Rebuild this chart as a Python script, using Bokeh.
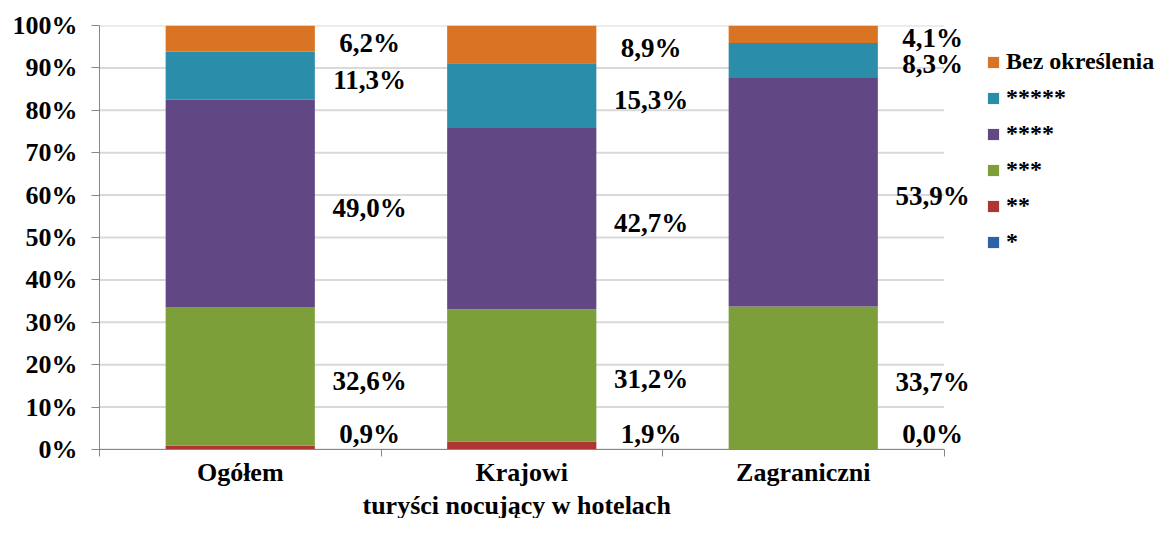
from bokeh.plotting import figure
from bokeh.models import (ColumnDataSource, FixedTicker, Legend, LegendItem, Title,
                          PrintfTickFormatter, Range1d)
from bokeh.core.properties import value
from bokeh.embed import file_html
from bokeh.resources import INLINE

# ---- data ----
categories = ["Ogółem", "Krajowi", "Zagraniczni"]
series_names = ["*", "**", "***", "****", "*****", "Bez określenia"]
s_1 = [0.0, 0.0, 0.0]          # *
s_2 = [0.9, 1.9, 0.0]          # **
s_3 = [32.6, 31.2, 33.7]       # ***
s_4 = [49.0, 42.7, 53.9]       # ****
s_5 = [11.3, 15.3, 8.3]        # *****
s_6 = [6.2, 8.9, 4.1]          # Bez określenia
y_ticks = [0, 10, 20, 30, 40, 50, 60, 70, 80, 90, 100]
axis_title = "turyści nocujący w hotelach"

colors = ["#2C62A6", "#AE3534", "#7D9F39", "#624785", "#2A8DAA", "#D87424"]
FONT = "Liberation Serif"

W, H = 1156, 518
LEFT = 99
CAT_PX = 281.5           # pixel width of one category slot
n = len(categories)
x_end = (W - LEFT) / CAT_PX   # extra room on the right for labels and legend

series_values = [s_1, s_2, s_3, s_4, s_5, s_6]
keys = ["s1", "s2", "s3", "s4", "s5", "s6"]
xs = [i + 0.5 for i in range(n)]
data = {"x": xs}
for k, v in zip(keys, series_values):
    data[k] = v
source = ColumnDataSource(data)

p = figure(width=W, height=H, x_range=Range1d(0, x_end), y_range=Range1d(0, 100),
           output_backend="svg", toolbar_location=None,
           min_border_left=LEFT, min_border_right=0, min_border_top=25, min_border_bottom=0)
p.outline_line_color = None
p.background_fill_color = "white"

# horizontal gridlines limited to the category area
p.segment(x0=[0] * len(y_ticks), x1=[n] * len(y_ticks), y0=y_ticks, y1=y_ticks,
          line_color="#D9D9D9", line_width=2, level="underlay")

rs = p.vbar_stack(keys, x="x", width=0.53, source=source, color=colors, line_color=None)

# data labels (right of bars)
lx, ly, lt = [], [], []
for i in range(n):
    bottom = 0.0
    for j, vals in enumerate(series_values):
        v = vals[i]
        if j >= 1:
            mid = bottom + v / 2.0
            lx.append(xs[i] + 0.46)
            ly.append(max(mid, 4.5))
            lt.append(f"{v:.1f}%".replace(".", ","))
        bottom += v
lsrc = ColumnDataSource(dict(x=lx, y=ly, t=lt))
p.text(x="x", y="y", text="t", source=lsrc, text_align="center", text_baseline="middle",
       y_offset=4, text_font=value(FONT), text_font_style="bold", text_font_size="27px",
       text_color="black")

# axes
p.xaxis.bounds = (0, n)
p.xaxis.ticker = FixedTicker(ticks=xs, minor_ticks=list(range(n + 1)))
p.xaxis.major_label_overrides = {x: c for x, c in zip(xs, categories)}
p.xaxis.major_tick_line_color = None
p.xaxis.major_tick_out = 0
p.xaxis.major_tick_in = 0
p.xaxis.minor_tick_out = 7
p.xaxis.minor_tick_in = 0
p.xaxis.minor_tick_line_color = "#868686"
p.xaxis.axis_line_color = "#868686"
p.xaxis.major_label_standoff = 1
p.xaxis.major_label_text_font = FONT
p.xaxis.major_label_text_font_style = "bold"
p.xaxis.major_label_text_font_size = "26px"
p.xaxis.major_label_text_color = "black"

p.yaxis.ticker = FixedTicker(ticks=y_ticks, minor_ticks=[])
p.yaxis.formatter = PrintfTickFormatter(format="%d%%")
p.yaxis.major_tick_out = 8
p.yaxis.major_tick_in = 0
p.yaxis.major_tick_line_color = "#868686"
p.yaxis.axis_line_color = "#868686"
p.yaxis.major_label_standoff = 14
p.yaxis.major_label_text_font = FONT
p.yaxis.major_label_text_font_style = "bold"
p.yaxis.major_label_text_font_size = "26px"
p.yaxis.major_label_text_color = "black"

p.xgrid.grid_line_color = None
p.ygrid.grid_line_color = None

# x-axis title, placed under the middle category
xt = Title(text=axis_title, align="left", offset=263, standoff=-2,
           text_font=FONT, text_font_style="bold", text_font_size="26px", text_color="black")
p.add_layout(xt, "below")

items = [LegendItem(label=series_names[j], renderers=[rs[j]]) for j in reversed(range(6))]
legend = Legend(items=items, location=(887, 194))
legend.label_text_font = FONT
legend.label_text_font_style = "bold"
legend.label_text_font_size = "24px"
legend.label_text_color = "black"
legend.glyph_width = 14
legend.glyph_height = 14
legend.label_standoff = 6
legend.spacing = 9
legend.padding = 0
legend.margin = 0
legend.border_line_color = None
legend.background_fill_alpha = 0
p.add_layout(legend, "center")

open("out.html", "w").write(file_html(p, INLINE))
